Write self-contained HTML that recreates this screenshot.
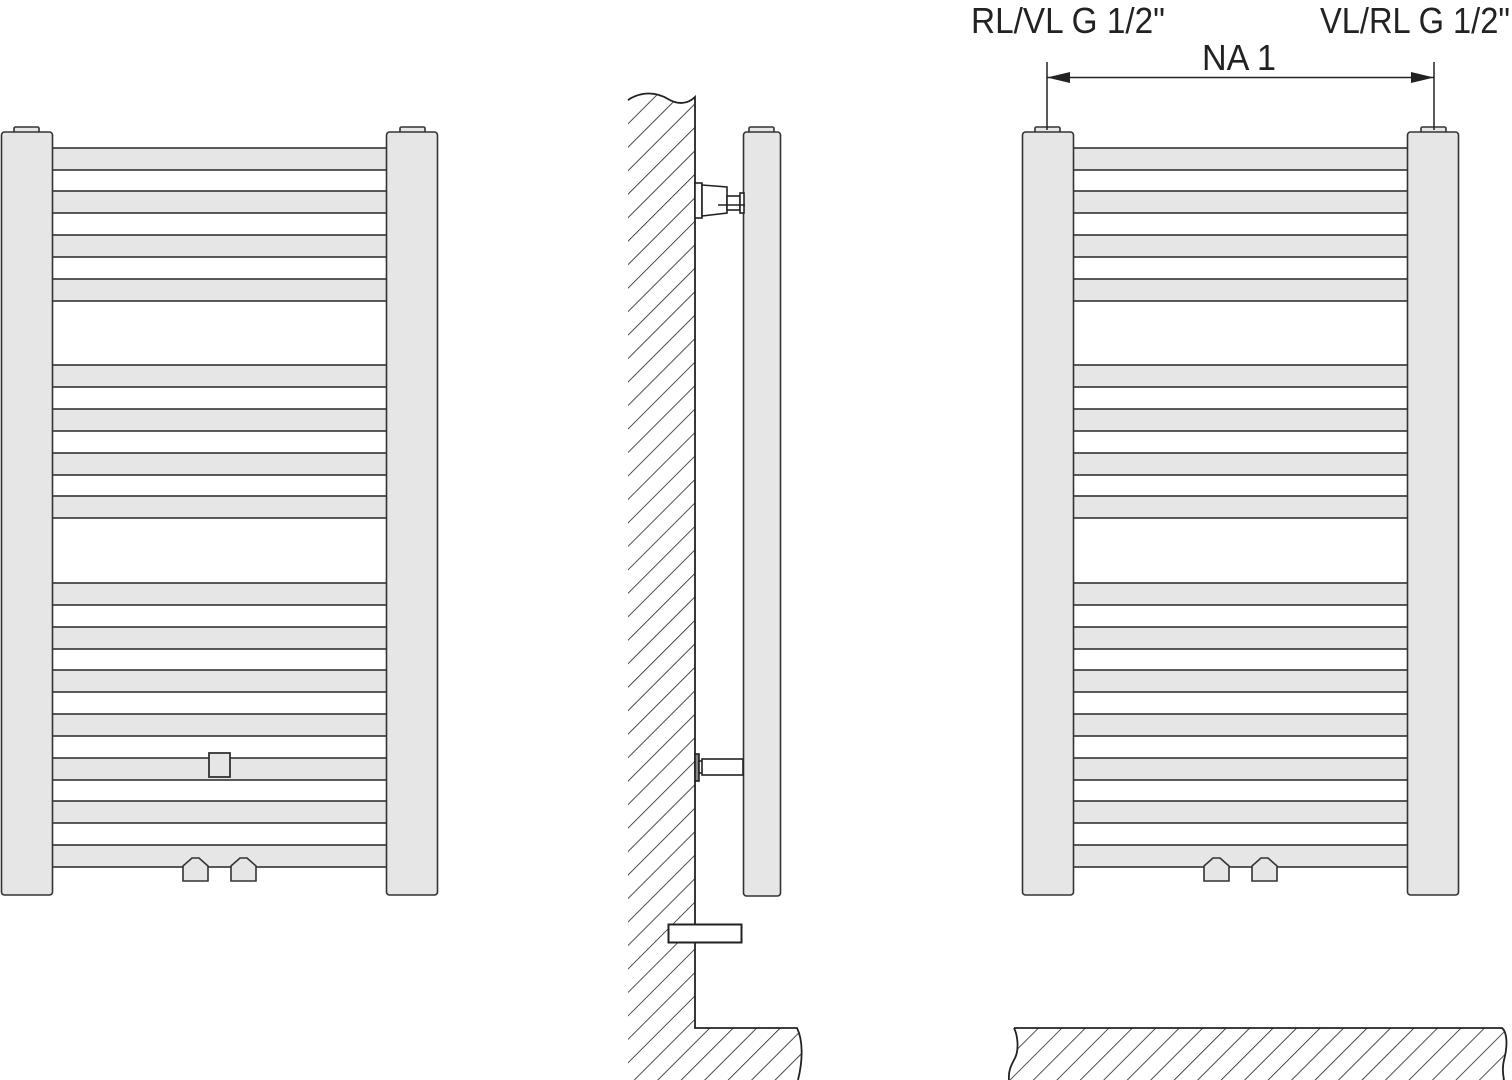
<!DOCTYPE html>
<html><head><meta charset="utf-8"><style>html,body{margin:0;padding:0;background:#fff}svg{display:block}</style></head>
<body>
<svg width="1512" height="1080" viewBox="0 0 1512 1080" xmlns="http://www.w3.org/2000/svg">
<defs>
<pattern id="h" patternUnits="userSpaceOnUse" width="16.6" height="16.6" patternTransform="rotate(45)">
<line x1="0" y1="0" x2="0" y2="16.6" stroke="#222" stroke-width="1.6"/>
</pattern>
<g id="rad">
<g fill="#e6e6e6" stroke="#333" stroke-width="1.6">
<rect x="52" y="148" width="335" height="22"/>
<rect x="52" y="191" width="335" height="22"/>
<rect x="52" y="235" width="335" height="22"/>
<rect x="52" y="279" width="335" height="22"/>
<rect x="52" y="365" width="335" height="22"/>
<rect x="52" y="409" width="335" height="22"/>
<rect x="52" y="453" width="335" height="22"/>
<rect x="52" y="496" width="335" height="22"/>
<rect x="52" y="583" width="335" height="22"/>
<rect x="52" y="627" width="335" height="22"/>
<rect x="52" y="670" width="335" height="22"/>
<rect x="52" y="714" width="335" height="22"/>
<rect x="52" y="758" width="335" height="22"/>
<rect x="52" y="801" width="335" height="22"/>
<rect x="52" y="845" width="335" height="22"/>
<rect x="14" y="127" width="25" height="6" rx="1.5"/>
<rect x="400" y="127" width="25" height="6" rx="1.5"/>
<rect x="1.5" y="132" width="51" height="763" rx="3"/>
<rect x="386.5" y="132" width="51" height="763" rx="3"/>
<path d="M183 881 V866 L192 858 H199 L208 866 V881 Z"/>
<path d="M231 881 V866 L240 858 H247 L256 866 V881 Z"/>
</g>
</g>
</defs>

<use href="#rad"/>
<rect x="209" y="753" width="21" height="24" fill="#e6e6e6" stroke="#333" stroke-width="1.8"/>

<use href="#rad" x="1021"/>

<g stroke="#222" stroke-width="1.5" fill="#222">
<line x1="1047" y1="62" x2="1047" y2="130"/>
<line x1="1434" y1="62" x2="1434" y2="130"/>
<line x1="1047" y1="77.5" x2="1434" y2="77.5"/>
<path d="M1047 77.5 L1070 72 L1070 83 Z" stroke="none"/>
<path d="M1434 77.5 L1411 72 L1411 83 Z" stroke="none"/>
</g>
<g font-family="'Liberation Sans',sans-serif" font-size="36" fill="#222">
<text x="971" y="33" textLength="194" lengthAdjust="spacingAndGlyphs">RL/VL G 1/2"</text>
<text x="1320" y="33" textLength="190" lengthAdjust="spacingAndGlyphs">VL/RL G 1/2"</text>
<text x="1202" y="70" textLength="74" lengthAdjust="spacingAndGlyphs">NA 1</text>
</g>

<path d="M628 100 C640 92 655 91 668 99 C678 105 688 104 695 97 V1080 H628 Z" fill="url(#h)"/>
<path d="M695 1028 H797 C803 1040 803 1060 798 1080 H695 Z" fill="url(#h)"/>
<path d="M628 100 C640 92 655 91 668 99 C678 105 688 104 695 97 V1028 H797 C803 1040 803 1060 798 1080" fill="none" stroke="#222" stroke-width="1.8"/>
<g fill="#e6e6e6" stroke="#333" stroke-width="1.6">
<rect x="749" y="127" width="25" height="6" rx="1.5"/>
<rect x="743.5" y="132" width="37" height="764" rx="3"/>
</g>
<g fill="#fff" stroke="#222" stroke-width="1.6">
<rect x="695" y="183" width="7" height="35"/>
<path d="M702 185 L727 187 V213 L702 216 Z"/>
<rect x="727" y="196" width="13" height="14"/>
<rect x="740" y="193" width="4" height="20"/>
<line x1="718" y1="205" x2="745" y2="205"/>
</g>
<g fill="#fff" stroke="#222" stroke-width="1.6">
<rect x="695" y="754" width="4" height="27" fill="#888"/>
<rect x="699" y="761" width="4" height="12"/>
<rect x="702" y="759" width="41" height="16"/>
</g>
<rect x="668.5" y="924.5" width="73" height="18" fill="#fff" stroke="#222" stroke-width="2"/>

<path d="M1014 1028 H1502 C1507 1032 1508 1045 1504 1060 C1502 1068 1503 1075 1504 1080 H1009 C1008 1070 1012 1064 1015 1058 C1019 1050 1018 1036 1014 1028 Z" fill="url(#h)"/>
<path d="M1014 1028 C1018 1036 1019 1050 1015 1058 C1012 1064 1008 1070 1009 1080 M1014 1028 H1502 C1507 1032 1508 1045 1504 1060 C1502 1068 1503 1075 1504 1080" fill="none" stroke="#222" stroke-width="1.8"/>
</svg>
</body></html>
